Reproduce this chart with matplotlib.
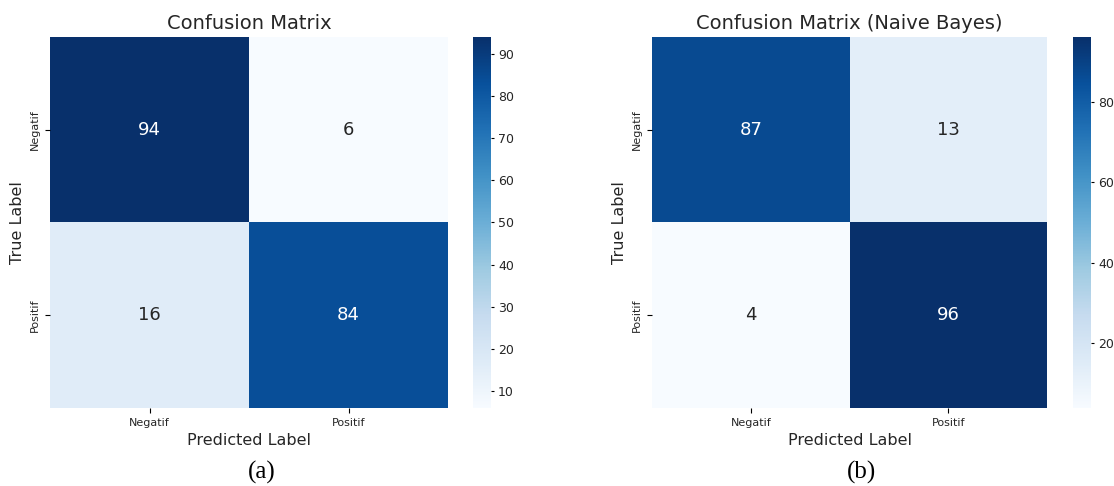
import numpy as np
import matplotlib
matplotlib.use("Agg")
import matplotlib.pyplot as plt
import seaborn as sns

labels = ["Negatif", "Positif"]
cm_a = np.array([[94, 6], [16, 84]])
cm_b = np.array([[87, 13], [4, 96]])
titles = ["Confusion Matrix", "Confusion Matrix (Naive Bayes)"]
captions = ["(a)", "(b)"]

plt.rcParams['text.color'] = '#262626'
plt.rcParams['xtick.labelcolor'] = '#262626'
plt.rcParams['ytick.labelcolor'] = '#262626'
plt.rcParams['axes.labelcolor'] = '#262626'

fig = plt.figure(figsize=(11.14, 4.86), dpi=100)
W, H = 1114, 486

def box(x0, y0, x1, y1):
    return [x0 / W, 1 - y1 / H, (x1 - x0) / W, (y1 - y0) / H]

panels = [
    (box(50, 37, 448, 408), box(473, 37, 491, 408), 262),
    (box(652, 37, 1047, 408), box(1073, 37, 1091, 408), 862),
]

for cm, title, cap, (ax_box, cb_box, cx) in zip([cm_a, cm_b], titles, captions, panels):
    ax = fig.add_axes(ax_box)
    cax = fig.add_axes(cb_box)
    sns.heatmap(cm, annot=True, fmt="d", cmap="Blues", ax=ax, cbar_ax=cax,
                xticklabels=labels, yticklabels=labels,
                annot_kws={"size": 13})
    ax.set_title(title, fontsize=14)
    ax.set_xlabel("Predicted Label", fontsize=11.5)
    ax.set_ylabel("True Label", fontsize=11.5)
    ax.tick_params(labelsize=8)
    cax.tick_params(labelsize=9, length=2.5, pad=2.5)
    fig.text(cx / W, 1 - 472 / H, cap, ha="center", va="center",
             fontsize=18, family="Liberation Serif", color="black")

fig.savefig("out.png", dpi=100)
